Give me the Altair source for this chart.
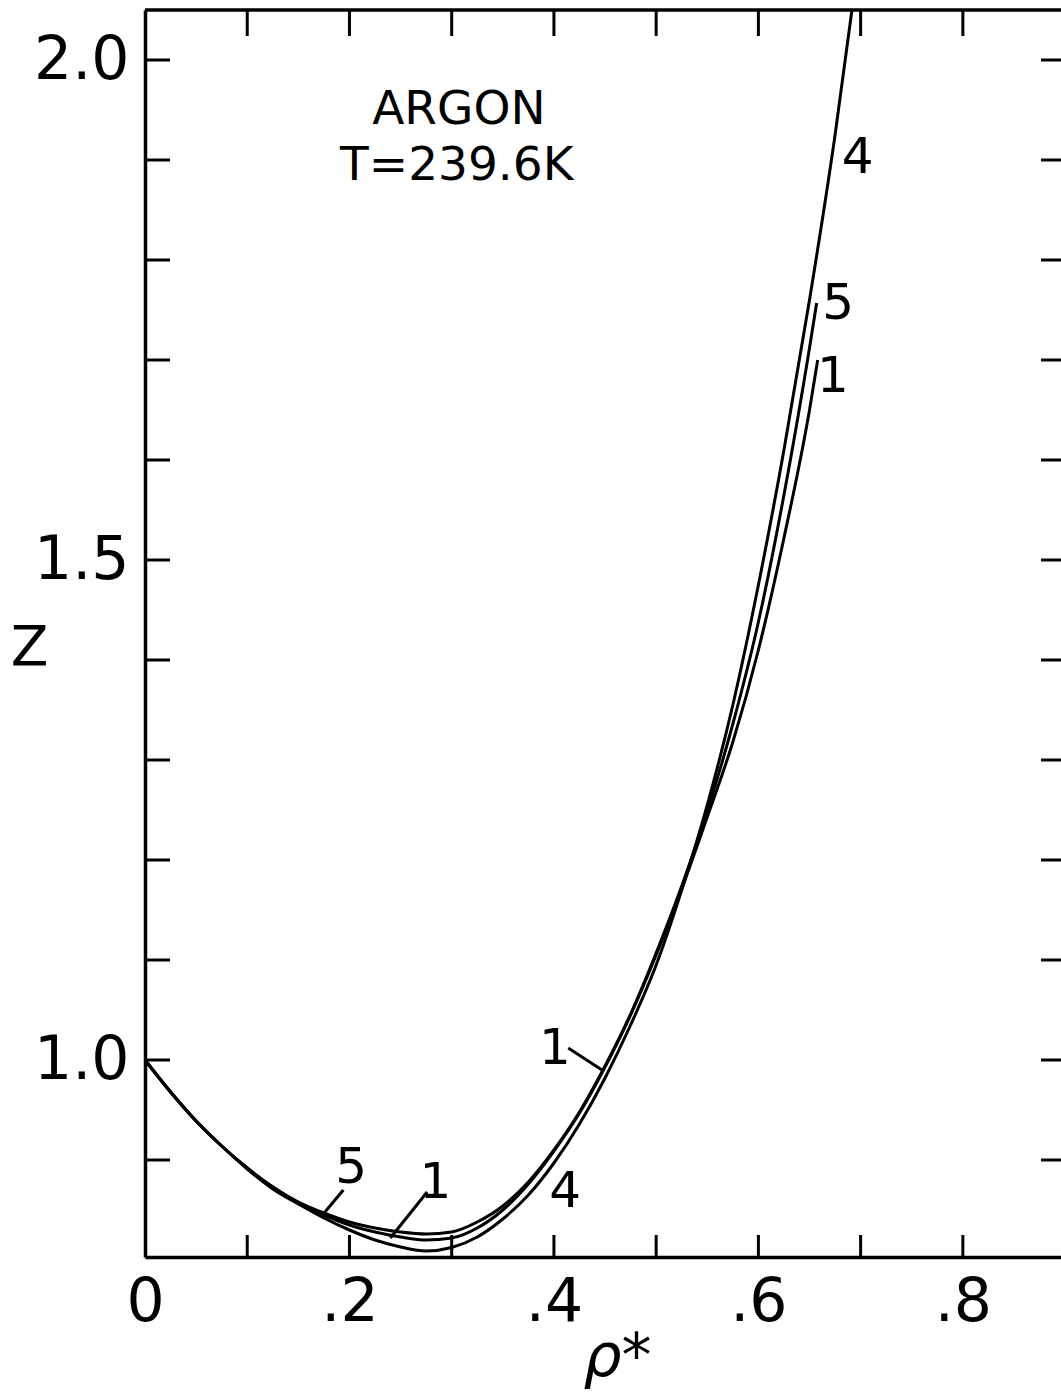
import json
import altair as alt
import pandas as pd

# ---------------- data ----------------
rho = [0.0, 0.025, 0.05, 0.075, 0.10, 0.125, 0.15, 0.175, 0.20, 0.225, 0.25, 0.275,
       0.30, 0.325, 0.35, 0.375, 0.40, 0.425, 0.45, 0.475, 0.50, 0.525, 0.55, 0.575,
       0.60, 0.625, 0.65]

z_curve1 = [1.000, 0.968, 0.939, 0.914, 0.892, 0.873, 0.857, 0.845, 0.835, 0.828, 0.823, 0.820,
            0.822, 0.832, 0.850, 0.876, 0.909, 0.947, 0.993, 1.045, 1.105, 1.171, 1.243, 1.318,
            1.410, 1.522, 1.650]
z_curve4 = [1.000, 0.968, 0.939, 0.914, 0.891, 0.871, 0.856, 0.842, 0.830, 0.820, 0.813, 0.809,
            0.8125, 0.823, 0.841, 0.865, 0.897, 0.936, 0.982, 1.035, 1.095, 1.170, 1.255, 1.355,
            1.475, 1.610, 1.760]
z_curve5 = [1.000, 0.968, 0.939, 0.914, 0.892, 0.873, 0.858, 0.847, 0.838, 0.832, 0.828, 0.826,
            0.828, 0.838, 0.854, 0.878, 0.910, 0.948, 0.994, 1.046, 1.107, 1.174, 1.249, 1.336,
            1.438, 1.565, 1.712]

tail_rho_1 = [0.658]
tail_z_1 = [1.700]
tail_rho_4 = [0.675, 0.6915]
tail_z_4 = [1.925, 2.050]
tail_rho_5 = [0.657]
tail_z_5 = [1.757]

# curve labels
label_text = ["4", "5", "1", "1", "4", "5", "1"]
label_rho = [0.697, 0.678, 0.673, 0.401, 0.411, 0.2016, 0.284]
label_z = [1.902, 1.756, 1.683, 1.011, 0.868, 0.892, 0.877]

# leader lines (from label to curve)
leader_rho = [0.414, 0.194, 0.276]
leader_z = [1.012, 0.870, 0.868]
leader_rho2 = [0.447, 0.176, 0.240]
leader_z2 = [0.990, 0.848, 0.822]

# annotation
note_lines = ["ARGON", "T=239.6K"]
note_rho = [0.307, 0.305]
note_z = [1.950, 1.894]

# axis ticks / labels
x_label_values = [0.0, 0.2, 0.4, 0.6, 0.8]
x_label_text = ["0", ".2", ".4", ".6", ".8"]
x_minor = [0.1, 0.2, 0.3, 0.4, 0.5, 0.6, 0.7, 0.8]
y_label_values = [1.0, 1.5, 2.0]
y_minor = [0.9, 1.0, 1.1, 1.2, 1.3, 1.4, 1.5, 1.6, 1.7, 1.8, 1.9, 2.0]

# ---------------- build tables ----------------
rows = []
for name, zs, tr, tz in [("1", z_curve1, tail_rho_1, tail_z_1),
                         ("4", z_curve4, tail_rho_4, tail_z_4),
                         ("5", z_curve5, tail_rho_5, tail_z_5)]:
    for r, z in zip(rho + tr, zs + tz):
        rows.append({"rho": r, "Z": z, "curve": name})
curves = pd.DataFrame(rows)

labels_df = pd.DataFrame({"rho": label_rho, "Z": label_z, "text": label_text})
leaders_df = pd.DataFrame({"rho": leader_rho, "Z": leader_z, "rho2": leader_rho2, "Z2": leader_z2})
notes_df = pd.DataFrame({"rho": note_rho, "Z": note_z, "text": note_lines})
xminor_df = pd.DataFrame({"rho": x_minor})
yminor_df = pd.DataFrame({"Z": y_minor})

W, H = 916, 1247
XMAX = 0.896
YMIN, YMAX = 0.803, 2.05
FONT = "DejaVu Sans"

xs = alt.Scale(domain=[0, XMAX], nice=False, zero=False)
ys = alt.Scale(domain=[YMIN, YMAX], nice=False, zero=False)

label_expr = json.dumps(x_label_text) + "[round(datum.value / 0.2)]"

x_axis = alt.Axis(values=x_label_values, labelExpr=label_expr, ticks=False, tickSize=0,
                  grid=False, domainWidth=3.5, domainColor="black",
                  labelFont=FONT, labelFontSize=60, labelColor="black", labelPadding=16,
                  labelFlush=False,
                  title="ρ*", titleFont=FONT, titleFontSize=60, titleFontStyle="italic",
                  titleFontWeight="normal", titleColor="black",
                  titleX=472, titleY=118, titleAlign="center", titleBaseline="alphabetic")
y_axis = alt.Axis(values=y_label_values, format=".1f", ticks=False, tickSize=0,
                  grid=False, domainWidth=3.5, domainColor="black",
                  labelFont=FONT, labelFontSize=60, labelColor="black", labelPadding=16,
                  labelFlush=False,
                  title="Z", titleFont=FONT, titleFontSize=55, titleFontWeight="normal",
                  titleColor="black", titleAngle=0, titleX=-116, titleY=637,
                  titleAlign="center", titleBaseline="middle")

X = alt.X("rho:Q", scale=xs, axis=x_axis)
Y = alt.Y("Z:Q", scale=ys, axis=y_axis)

lines = alt.Chart(curves).mark_line(color="black", strokeWidth=3, interpolate="monotone").encode(
    x=X, y=Y, detail="curve:N",
)

curve_labels = alt.Chart(labels_df).mark_text(font=FONT, fontSize=50, color="black",
                                              align="center", baseline="middle").encode(
    x=X, y=Y, text="text:N",
)

leaders = alt.Chart(leaders_df).mark_rule(color="black", strokeWidth=3).encode(
    x=X, y=Y, x2="rho2:Q", y2="Z2:Q",
)

notes = alt.Chart(notes_df).mark_text(font=FONT, fontSize=47, color="black",
                                      align="center", baseline="middle").encode(
    x=X, y=Y, text="text:N",
)

bottom_ticks = alt.Chart(xminor_df).mark_rule(color="black", strokeWidth=3).encode(
    x=X, y=alt.value(H - 22), y2=alt.value(H),
)
top_ticks = alt.Chart(xminor_df).mark_rule(color="black", strokeWidth=3).encode(
    x=X, y=alt.value(0), y2=alt.value(26),
)
left_ticks = alt.Chart(yminor_df).mark_rule(color="black", strokeWidth=3).encode(
    y=Y, x=alt.value(0), x2=alt.value(25),
)
right_ticks = alt.Chart(yminor_df).mark_rule(color="black", strokeWidth=3).encode(
    y=Y, x=alt.value(W - 20), x2=alt.value(W),
)
top_border = alt.Chart(pd.DataFrame({"k": [0]})).mark_rule(color="black", strokeWidth=3.5).encode(
    x=alt.value(0), x2=alt.value(W), y=alt.value(0),
)

chart = alt.layer(
    lines, leaders, curve_labels, notes,
    bottom_ticks, top_ticks, left_ticks, right_ticks, top_border,
).properties(
    width=W, height=H,
    autosize=alt.AutoSizeParams(type="none"),
    padding={"left": 145, "top": 10, "right": 0, "bottom": 135},
    background="white",
).configure_view(stroke="transparent")

chart.save("out.html", embed_options={"renderer": "svg", "actions": False})
